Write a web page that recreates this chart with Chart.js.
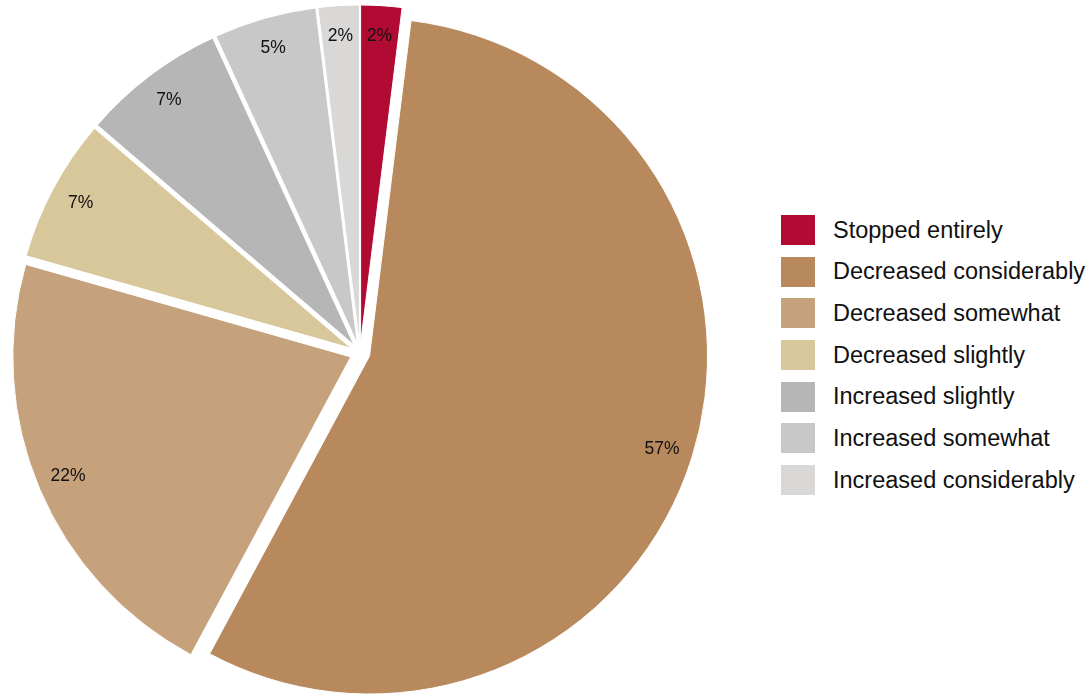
<!DOCTYPE html>
<html>
<head>
<meta charset="utf-8">
<script src="https://cdn.jsdelivr.net/npm/chart.js@4.4.1/dist/chart.umd.min.js"></script>
<style>
  html, body { margin: 0; padding: 0; background: #fff; }
  body { width: 1089px; height: 697px; position: relative; overflow: hidden; font-family: "Liberation Sans", Arial, Helvetica, sans-serif; }
  #pieWrap { position: absolute; left: 0; top: 0; width: 720px; height: 697px; }
  #legend { position: absolute; left: 781px; top: 215px; margin: 0; padding: 0; list-style: none; }
  #legend li { display: flex; align-items: center; height: 30px; margin-bottom: 11.7px; }
  #legend .box { width: 34px; height: 30px; margin-right: 18px; flex: none; }
  #legend .txt { font-size: 23.5px; color: #111; white-space: nowrap; }
</style>
</head>
<body>
<div id="pieWrap"><canvas id="pie"></canvas></div>
<ul id="legend"></ul>
<script>
const categories = [
  'Stopped entirely',
  'Decreased considerably',
  'Decreased somewhat',
  'Decreased slightly',
  'Increased slightly',
  'Increased somewhat',
  'Increased considerably'
];
const shares = [2, 57, 22, 7, 7, 5, 2];
const colors = ['#B10B34', '#B8895D', '#C6A27C', '#D9C79C', '#B6B6B6', '#C8C8C8', '#D9D8D6'];

const EXPLODE = 10;      // every slice pushed out from the centre
const LABEL_DIST = 307;  // label distance from the slice's own centre

// draw each arc shifted outward along its bisector
const explodeSlices = {
  id: 'explodeSlices',
  beforeDatasetDraw(chart, args) {
    const ctx = chart.ctx;
    args.meta.data.forEach(arc => {
      const mid = (arc.startAngle + arc.endAngle) / 2;
      ctx.save();
      ctx.translate(Math.cos(mid) * EXPLODE, Math.sin(mid) * EXPLODE);
      arc.draw(ctx);
      ctx.restore();
    });
    return false;
  }
};

// percentage text inside each slice, near the rim
const sliceLabels = {
  id: 'sliceLabels',
  afterDatasetsDraw(chart) {
    const ctx = chart.ctx;
    const meta = chart.getDatasetMeta(0);
    const values = chart.data.datasets[0].data;
    ctx.save();
    ctx.font = '17.5px "Liberation Sans", Arial, sans-serif';
    ctx.fillStyle = '#111';
    ctx.textAlign = 'center';
    ctx.textBaseline = 'middle';
    meta.data.forEach((arc, i) => {
      const mid = (arc.startAngle + arc.endAngle) / 2;
      const d = EXPLODE + LABEL_DIST;
      ctx.fillText(values[i] + '%', arc.x + Math.cos(mid) * d, arc.y + Math.sin(mid) * d);
    });
    ctx.restore();
  }
};

new Chart(document.getElementById('pie'), {
  type: 'pie',
  data: {
    labels: categories,
    datasets: [{
      data: shares,
      backgroundColor: colors,
      borderColor: '#ffffff',
      borderWidth: 1
    }]
  },
  options: {
    responsive: true,
    maintainAspectRatio: false,
    animation: false,
    radius: 338,
    layout: { padding: { top: 9, bottom: 0, left: 0, right: 0 } },
    plugins: {
      legend: { display: false },
      tooltip: { enabled: false }
    }
  },
  plugins: [explodeSlices, sliceLabels]
});

// legend on the right
const legendEl = document.getElementById('legend');
categories.forEach((name, i) => {
  const li = document.createElement('li');
  li.innerHTML = '<span class="box" style="background:' + colors[i] + '"></span><span class="txt">' + name + '</span>';
  legendEl.appendChild(li);
});
</script>
</body>
</html>
